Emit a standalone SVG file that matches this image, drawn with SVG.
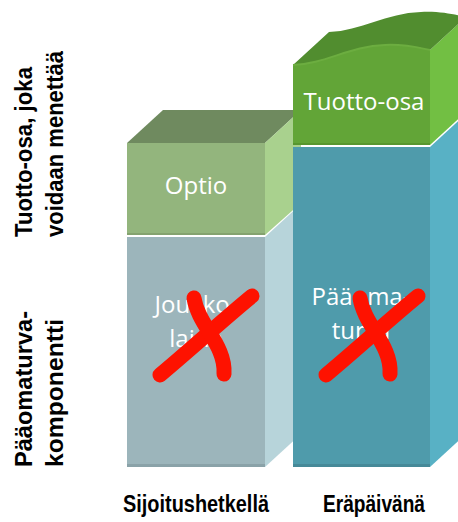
<svg xmlns="http://www.w3.org/2000/svg" width="458" height="522" viewBox="0 0 458 522">
<style>
.lbl{font-family:"Open Sans","Liberation Sans",sans-serif;font-size:24px;fill:#ffffff;text-anchor:middle}
.ax{font-family:"Liberation Sans",Arial,sans-serif;font-weight:bold;font-size:23px;fill:#000000}
.x{fill:none;stroke:#fe1200;stroke-width:15;stroke-linecap:round;stroke-linejoin:round}
</style>
<defs>
<g id="cross">
<path class="x" d="M160,375 C190,350 225,318 252,296"/>
<path class="x" d="M194,298 C198,325 226,345 224,374"/>
</g>
</defs>
<rect width="458" height="522" fill="#ffffff"/>

<g id="joukkolaina">
<polygon points="265,237 301,204 301,434 265,467" fill="#b7d4da"/>
<rect x="127" y="237" width="138" height="230" fill="#9cb5bb"/>
<rect x="127" y="464" width="138" height="3" fill="#8aa2a8"/>
<text class="lbl" x="196" y="313">Joukko-</text>
<text class="lbl" x="196" y="347">laina</text>
</g>

<g id="optio">
<polygon points="127,143 163,110 301,110 265,143" fill="#6f8a5f"/>
<polygon points="265,143 301,110 301,203 265,235" fill="#a9d18e"/>
<rect x="127" y="143" width="138" height="92" fill="#93b57d"/>
<rect x="127" y="233" width="138" height="2" fill="#84a26f"/>
<text class="lbl" x="196" y="194">Optio</text>
</g>

<g id="paaomaturva">
<polygon points="430,147 466,114 466,434 430,467" fill="#58b1c5"/>
<rect x="293" y="147" width="137" height="320" fill="#4f9bab"/>
<rect x="293" y="464" width="137" height="3" fill="#468998"/>
<text class="lbl" x="361" y="305">Pääoma-</text>
<text class="lbl" x="361" y="339">turva</text>
</g>

<g id="tuotto-osa">
<polygon points="430,50 466,17 466,112 430,145" fill="#72bf43"/>
<path d="M293,65 C325,64 350,46 385,45 C405,44 420,48 430,50 L466,17 C456,15 441,11 421,12 C386,13 361,31 329,32 Z" fill="#518d2f"/>
<path d="M293,65 C325,64 350,46 385,45 C405,44 420,48 430,50 L430,145 L293,145 Z" fill="#62a537"/>
<path d="M293,65 C325,64 350,46 385,45 C405,44 420,48 430,50" fill="none" stroke="#6cad40" stroke-width="2"/>
<rect x="293" y="143" width="137" height="2" fill="#57962f"/>
<text class="lbl" x="364" y="110">Tuotto-osa</text>
</g>

<g id="ristit">
<use href="#cross"/>
<use href="#cross" transform="translate(166,0)"/>
</g>

<g id="akselit">
<text class="ax" transform="translate(32,237) rotate(-90)" textLength="170" lengthAdjust="spacingAndGlyphs">Tuotto-osa, joka</text>
<text class="ax" transform="translate(63,237) rotate(-90)" textLength="186" lengthAdjust="spacingAndGlyphs">voidaan menettää</text>
<text class="ax" transform="translate(32,467) rotate(-90)" textLength="156" lengthAdjust="spacingAndGlyphs">Pääomaturva-</text>
<text class="ax" transform="translate(63,467) rotate(-90)" textLength="148" lengthAdjust="spacingAndGlyphs">komponentti</text>
<text class="ax" x="123" y="512" font-size="21" textLength="146" lengthAdjust="spacingAndGlyphs">Sijoitushetkellä</text>
<text class="ax" x="323" y="512" font-size="21" textLength="102" lengthAdjust="spacingAndGlyphs">Eräpäivänä</text>
</g>
</svg>
